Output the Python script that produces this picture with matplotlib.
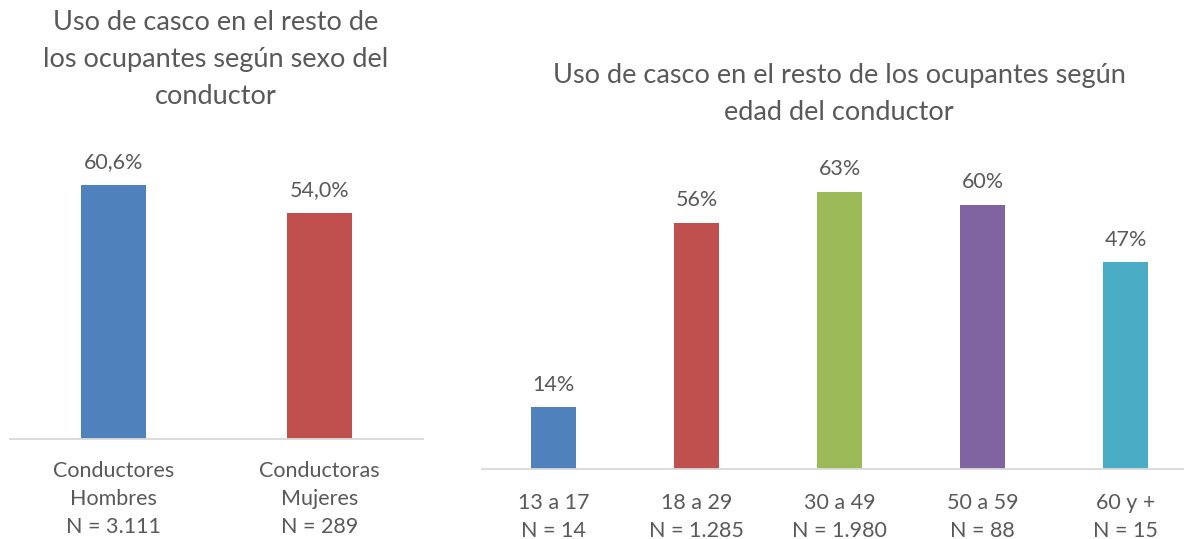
import matplotlib.pyplot as plt

plt.rcParams['font.family'] = ['Lato', 'DejaVu Sans']

# left chart: by driver sex
sexo_labels = ['Conductores\nHombres\nN = 3.111', 'Conductoras\nMujeres\nN = 289']
sexo_vals = [60.6, 54.0]
sexo_text = ['60,6%', '54,0%']
sexo_colors = ['#4f81bd', '#c0504d']

# right chart: by driver age
edad_labels = ['13 a 17\nN = 14', '18 a 29\nN = 1.285', '30 a 49\nN = 1.980',
               '50 a 59\nN = 88', '60 y +\nN = 15']
edad_vals = [14, 56, 63, 60, 47]
edad_text = ['14%', '56%', '63%', '60%', '47%']
edad_colors = ['#4f81bd', '#c0504d', '#9bbb59', '#8064a2', '#4bacc6']

W, H = 1184, 539
grey = '#595959'
fig = plt.figure(figsize=(W / 100, H / 100), dpi=100)


def px_axes(x0, x1, ytop, ybot):
    return fig.add_axes([x0 / W, (H - ybot) / H, (x1 - x0) / W, (ybot - ytop) / H])


def style(ax, pad):
    for s in ['top', 'right', 'left']:
        ax.spines[s].set_visible(False)
    ax.spines['bottom'].set_color('#d9d9d9')
    ax.spines['bottom'].set_linewidth(1.3)
    ax.set_yticks([])
    ax.tick_params(axis='x', length=0, labelsize=15.5, labelcolor=grey, pad=pad)
    for lab in ax.get_xticklabels():
        lab.set_linespacing(1.5)


ax1 = px_axes(10, 423, 150, 439)
x1 = range(len(sexo_vals))
ax1.bar(x1, sexo_vals, width=0.315, color=sexo_colors)
ax1.set_xlim(-0.5, 1.5)
ax1.set_ylim(0, 289 / 4.19)
ax1.set_xticks(list(x1))
ax1.set_xticklabels(sexo_labels)
for i, v in enumerate(sexo_vals):
    ax1.annotate(sexo_text[i], (i, v), xytext=(0, 9), textcoords='offset points',
                 ha='center', va='bottom', fontsize=15.5, color=grey)
style(ax1, 16)

ax2 = px_axes(482, 1197, 150, 469)
x2 = range(len(edad_vals))
ax2.bar(x2, edad_vals, width=0.315, color=edad_colors)
ax2.set_xlim(-0.5, 4.5)
ax2.set_ylim(0, 319 / 4.4)
ax2.set_xticks(list(x2))
ax2.set_xticklabels(edad_labels)
for i, v in enumerate(edad_vals):
    ax2.annotate(edad_text[i], (i, v), xytext=(0, 9), textcoords='offset points',
                 ha='center', va='bottom', fontsize=15.5, color=grey)
style(ax2, 17)

fig.text(216 / W, 1 - 60 / H, 'Uso de casco en el resto de\nlos ocupantes según sexo del\nconductor',
         ha='center', va='center', fontsize=19.5, color=grey, linespacing=1.6)
fig.text(839 / W, 1 - 94 / H, 'Uso de casco en el resto de los ocupantes según\nedad del conductor',
         ha='center', va='center', fontsize=19.5, color=grey, linespacing=1.6)

fig.savefig('out.png', dpi=100)
